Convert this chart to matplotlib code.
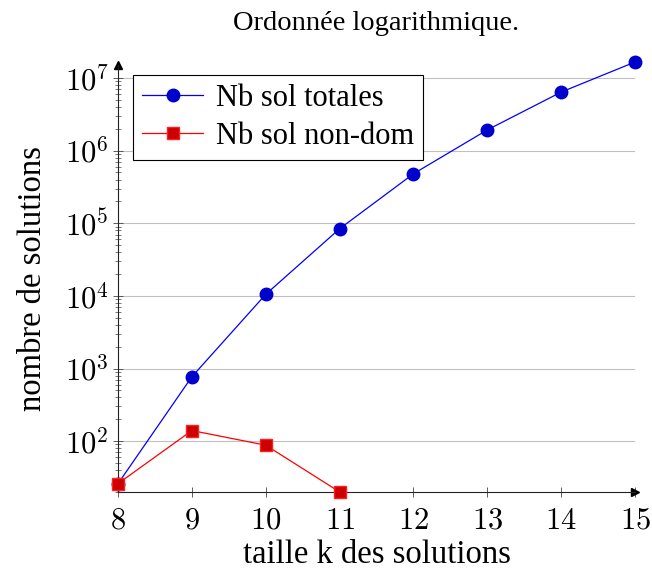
import matplotlib.pyplot as plt
import numpy as np
from matplotlib.ticker import LogLocator, FixedLocator

plt.rcParams['font.family'] = ['Liberation Serif', 'DejaVu Serif']
plt.rcParams['mathtext.fontset'] = 'cm'

# taille k des solutions
k = [8, 9, 10, 11, 12, 13, 14, 15]
nb_totales = [26, 770, 10500, 84000, 480000, 1.93e6, 6.4e6, 1.66e7]
k_nondom = [8, 9, 10, 11]
nb_nondom = [26, 140, 88, 20]

fig = plt.figure(figsize=(6.52, 5.72), dpi=100)
ax = fig.add_axes([0.181, 0.140, 0.793, 0.746])

ax.plot(k, nb_totales, color='#0000ff', lw=0.9, marker='o', ms=9,
        mfc='#0000cc', mec='#0000cc', label='Nb sol totales', clip_on=False, zorder=3)
ax.plot(k_nondom, nb_nondom, color='#ff0000', lw=0.9, marker='s', ms=9,
        mfc='#cc0000', mec='#ff2020', label='Nb sol non-dom', clip_on=False, zorder=3)

ax.set_yscale('log')
ax.set_xlim(8, 15)
ax.set_ylim(20, 1.5e7)
ax.set_xticks(k)
ax.set_xticklabels([r'$%d$' % v for v in k])
ax.yaxis.set_major_locator(FixedLocator([1e2, 1e3, 1e4, 1e5, 1e6, 1e7]))
ax.set_yticklabels([r'$10^{%d}$' % e for e in range(2, 8)])
ax.yaxis.set_minor_locator(LogLocator(base=10, subs=np.arange(2, 10)))
ax.yaxis.set_minor_formatter(plt.NullFormatter())

ax.grid(axis='y', which='major', color='#c0c0c0', lw=0.8)
ax.set_axisbelow(True)
ax.tick_params(axis='both', which='major', direction='inout', length=7, width=0.6,
               labelsize=22, color='#444444', pad=3)
ax.tick_params(axis='x', which='major', pad=7)
ax.tick_params(axis='y', which='minor', direction='inout', length=4, width=0.5,
               color='#444444')

for s in ['top', 'right']:
    ax.spines[s].set_visible(False)
for s in ['left', 'bottom']:
    ax.spines[s].set_linewidth(0.8)
    ax.spines[s].set_color('#222222')

# flèches au bout des axes
ax.plot(1, 0, '>k', ms=6, transform=ax.transAxes, clip_on=False)
ax.plot(0, 1, '^k', ms=6, transform=ax.transAxes, clip_on=False)

ax.set_xlabel('taille k des solutions', fontsize=23.5, labelpad=3)
ax.set_ylabel('nombre de solutions', fontsize=23.5, labelpad=12)
ax.set_title('Ordonnée logarithmique.', fontsize=20.5, pad=25)

leg = ax.legend(loc='upper left', bbox_to_anchor=(0.029, 0.977), fontsize=22,
                frameon=True, fancybox=False, edgecolor='black', framealpha=1,
                handlelength=2.0, handletextpad=0.4, borderpad=0.3, labelspacing=0.28,
                borderaxespad=0)
leg.get_frame().set_linewidth(0.8)

fig.savefig('out.png', dpi=100)
